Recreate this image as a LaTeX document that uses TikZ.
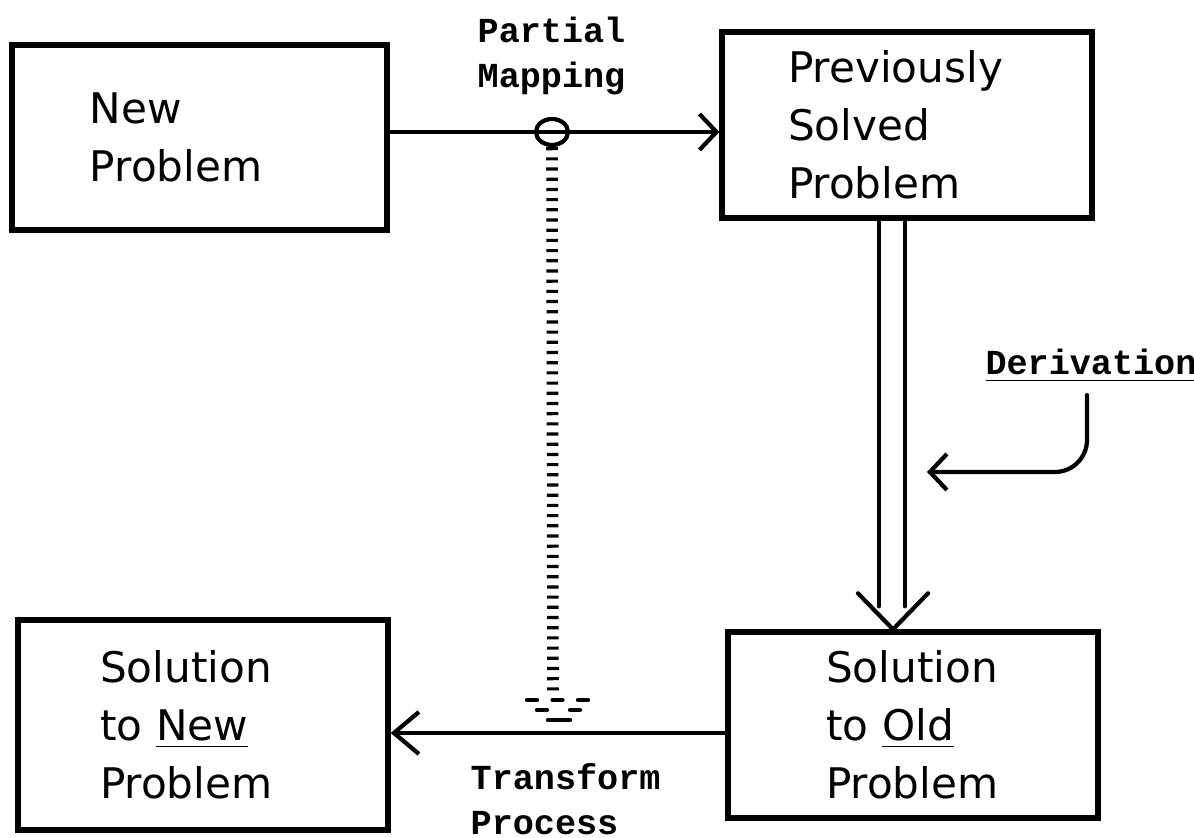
\documentclass[tikz,border=0pt]{standalone}
\usepackage{fontspec}
\usepackage{tikz}
\usetikzlibrary{arrows.meta, shapes.geometric, calc}
\setmainfont{DejaVu Sans}
\newfontfamily\tagfont{Liberation Mono}

\begin{document}
\begin{tikzpicture}[
	box/.style={draw, rectangle, line width=1.5pt, align=left, inner ysep=0pt, font=\fontsize{12}{16.5}\selectfont},
	tag/.style={align=left, inner sep=0pt, font=\tagfont\bfseries\fontsize{10}{12.8}\selectfont},
	wire/.style={line width=1.2pt, line cap=round},
	barb/.style={-{Straight Barb[length=0.17cm, width=0.36cm]}},
	bigbarb/.style={-{Straight Barb[length=0.25cm, width=0.42cm]}},
	dotline/.style={line width=3.3pt, dash pattern=on 0.9pt off 2pt}
]
	\useasboundingbox (0, 0) rectangle (11.94, 8.38);
	% Boxes:
	\node[box, inner xsep=0.78cm, text width=2.19cm, minimum height=1.85cm](N1) at (1.995, 7.005){New\\Problem};
	\node[box, inner xsep=0.66cm, text width=2.38cm, minimum height=1.86cm](N2) at (9.07, 7.13){Previously\\Solved\\Problem};
	\node[box, inner xsep=0.98cm, text width=1.74cm, minimum height=1.86cm](N3) at (9.13, 1.13){Solution\\to \underline{Old}\\Problem};
	\node[box, inner xsep=0.82cm, text width=2.06cm, minimum height=2.1cm](N4) at (2.03, 1.13){Solution\\to \underline{New}\\Problem};
	% Labels:
	\node[tag, anchor=north west](N6) at (4.77, 8.22){Partial\\Mapping};
	\node[tag, anchor=north west](N7) at (4.70, 0.75){Transform\\Process};
	\node[tag, anchor=base](N8) at (10.91, 4.63){\underline{Derivation}};
	% Partial mapping and its ground:
	\node[ellipse, draw, line width=1.2pt, minimum width=0.32cm, minimum height=0.26cm, inner sep=0pt](N5) at (5.52, 7.06){};
	\coordinate (C3) at (5.53, 1.47);
	\draw[wire, barb] (N1.east |- N5) -- (N5 -| N2.west);
	\draw[dotline] (N5.south) -- (C3);
	\draw[wire, dash pattern=on 0.1cm off 0.155cm] (5.27, 1.38) -- (5.88, 1.38);
	\draw[wire, dash pattern=on 0.1cm off 0.23cm] (5.37, 1.28) -- (5.80, 1.28);
	\draw[wire] (5.48, 1.18) -- (5.70, 1.18);
	\draw[wire, bigbarb] ([yshift=-0.08cm]N3.west) -- ([yshift=-0.08cm]N4.east);
	% Derivation (double arrow):
	\path (N3.north) ++(-0.2, 0) coordinate (C1);
	\draw[wire] ($(C1 |- N2.south)+(-0.14, 0)$) -- ($(C1)+(-0.14, 0.23)$);
	\draw[wire] ($(C1 |- N2.south)+(0.12, 0)$) -- ($(C1)+(0.12, 0.23)$);
	\draw[wire, line join=round] ($(C1)+(-0.35, 0.36)$) -- (C1) -- ($(C1)+(0.35, 0.36)$);
	\coordinate (C2) at (9.27, 3.66);
	\draw[wire, barb, rounded corners=0.32cm] ([xshift=-0.04cm, yshift=-0.12cm]N8.south) |- (C2);
\end{tikzpicture}
\end{document}
